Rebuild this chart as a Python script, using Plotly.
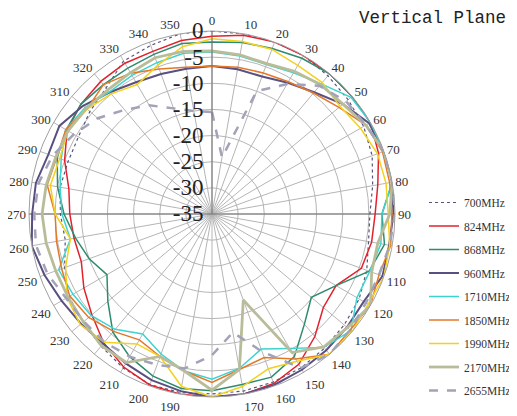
import plotly.graph_objects as go

angles = list(range(0, 360, 10))
angle_labels = ['' if a == 180 else str(a) for a in angles]

freqs = ['700MHz', '824MHz', '868MHz', '960MHz', '1710MHz', '1850MHz', '1990MHz', '2170MHz', '2655MHz']

g700 = [0, 0, 0, 0, -0.5, -1, -1.5, -2.4, -3.8, -4.8, -4.6, -3.5, -2.5, -2, -1.5, -1, -0.8, -0.6,
        -0.6, -0.3, -0.3, -1, -2, -2.8, -3.4, -5, -6.5, -6, -5.5, -5.7, -5.5, -4.5, -3.5, -1.2, -0.7, 0]
g824 = [-1.0, -0.3, 0, 0, 0, 0, 0, -1.1, -2.8, -3.8, -4.0, -4.6, -7.6, -7.2, -4.4, -1.8, -0.5, 0,
        0, 0, -0.2, -1.2, -2.8, -5, -6.7, -8.4, -8.2, -7.8, -7.2, -5, -3, -2.3, -1.9, -1.7, -1.9, -1.3]
g868 = [-2.1, -1.7, -1.3, -0.6, 0, 0, 0, 0, 0, -2.5, -1.5, -3, -7.6, -10.2, -7.5, -3.5, -1.8, -1.9,
        -1.2, -1.1, -2, -3.5, -5.5, -9, -11.8, -10, -8.5, -6.7, -5, -3.5, -2.8, -2.3, -2.7, -2.8, -2.5, -1.9]
g960 = [-6.7, -6.9, -7, -6, -4.6, -2.3, -0.3, 0, 0, -0.3, -0.6, -0.3, -1.5, -1.3, -1, -0.6, -0.2, 0,
        0, -0.6, -1.2, -2, -2.6, -2.3, -1.8, -0.9, 0, -0.6, -0.8, -1.7, -1.3, -2.8, -4.6, -5.9, -6.5, -6.8]
g1710 = [-4, -4.3, -4.6, -3.8, -2.5, -0.3, 0, 0, 0, -2.5, -2.2, -2.9, -3, -0.3, -1.7, -5.3, -7.5, -5,
         -3.4, -4.5, -6.5, -8.5, -6.2, -4.8, -4.3, -3.8, -7.5, -6.3, -5.5, -4.3, -2.7, -3.3, -4.5, -4.4, -4.2, -3.8]
g1850 = [-6.7, -6.5, -6.3, -5.8, -4.8, -3.3, -1, -0.3, -0.5, -0.6, -0.3, -1, 0, -0.5, 0, -3, -5.8, -4.8,
         -2.8, -4.5, -6, -7.2, -5.7, -4.2, -3.6, -4.4, -4.8, -5, -3, -3.4, -2.7, -3.8, -2.7, -3.9, -5.5, -6.5]
g1990 = [-1.5, -1.5, -1.5, -2.2, -2.2, -3, -2.2, -1.3, -1.2, -1.3, -0.5, 0, -0.5, 0, 0, -2.5, -3.5, -1.5,
         0, -1.5, -6, -6.3, -3, -2.1, -3, -5.2, -7.5, -5, -3.6, -4, -3.2, -3.8, -5, -6.4, -4.7, -2.5]
g2170 = [-3.8, -4.1, -4.4, -3.5, -2.7, -2.3, -1, 0, 0, -1, -2.8, -2.5, 0, -1.2, -1.8, -4.4, -17.5, -4.8,
         -1.3, -4.5, -6, -2.2, -2.1, -2.9, -3.2, -3.2, -2.8, -2.5, -2.8, -3.2, -3.2, -3.6, -4, -3.8, -3.2, -3.4]
g2655 = [-15.5, -24, -10, -6.3, -3, -1.5, -1, 0, 0, 0, -0.5, -1, -1, -0.5, 0, -1, -7, -12,
         -8, -5, -4.3, -3.5, -3, -3, -2.8, -1.5, -0.8, -1, -1.3, -2.5, -4.5, -6.5, -9, -11, -13.5, -15]

gains = [g700, g824, g868, g960, g1710, g1850, g1990, g2170, g2655]
colors = ['#55557a', '#e3202c', '#2e8b6e', '#5a5080', '#3fd3d0', '#e2782a', '#f2d21e', '#b9bc98', '#a2a2b8']
widths = [1.2, 1.5, 1.5, 2, 1.5, 1.5, 1.5, 2.8, 2.5]
dashes = ['dot', 'solid', 'solid', 'solid', 'solid', 'solid', 'solid', 'solid', 'dash']

radial_ticks = [0, -5, -10, -15, -20, -25, -30, -35]

fig = go.Figure()

# dark 90-270 line across the centre
fig.add_trace(go.Scatterpolar(r=[0, -35, 0], theta=[90, 0, 270], mode='lines',
                              line=dict(color='#707070', width=1), showlegend=False, hoverinfo='skip'))

for i, f in enumerate(freqs):
    r = gains[i] + [gains[i][0]]
    th = angles + [360]
    fig.add_trace(go.Scatterpolar(r=r, theta=th, mode='lines', name=f, legendgroup=f,
                                  line=dict(color=colors[i], width=widths[i], dash=dashes[i])))

# page body adds an 8px margin, positions below are shifted for it
fig.update_layout(
    width=517, height=416,
    margin=dict(l=0, r=0, t=0, b=0, autoexpand=False),
    paper_bgcolor='white',
    plot_bgcolor='white',
    polar=dict(
        domain=dict(x=[21 / 517, 387 / 517], y=[27 / 416, 393 / 416]),
        bgcolor='white',
        angularaxis=dict(rotation=90, direction='clockwise', tickmode='array',
                         tickvals=angles, ticktext=angle_labels,
                         tickfont=dict(family='Liberation Serif', size=13, color='#333'),
                         gridcolor='#b5b5b5', gridwidth=0.8, linecolor='#a0a0a0', linewidth=1,
                         ticks=''),
        radialaxis=dict(range=[-35, 0], angle=90, tickangle=90, side='counterclockwise',
                        tickvals=radial_ticks, ticktext=[str(v) for v in radial_ticks],
                        tickfont=dict(family='Liberation Serif', size=23, color='#222'),
                        gridcolor='#b5b5b5', gridwidth=0.8, showline=True, linecolor='#707070',
                        linewidth=1, ticks=''),
    ),
    legend=dict(x=508 / 517, y=1 - 180 / 416, xanchor='right', yanchor='top',
                font=dict(family='Liberation Serif', size=11.5, color='#333'),
                itemwidth=30, tracegroupgap=4.5, bgcolor='rgba(0,0,0,0)'),
    annotations=[dict(text='Vertical Plane', x=500 / 517, y=1 - 10 / 416, xref='paper', yref='paper',
                      xanchor='right', yanchor='middle', showarrow=False,
                      font=dict(family='Liberation Mono', size=17.5, color='#222'))],
)

fig.write_html("out.html")
